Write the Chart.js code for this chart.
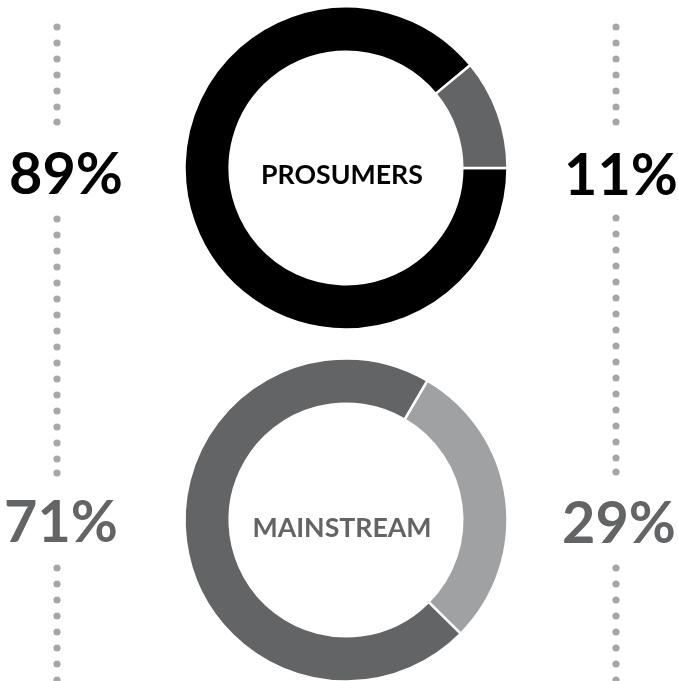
<!DOCTYPE html>
<html>
<head>
<meta charset="utf-8">
<script src="https://cdn.jsdelivr.net/npm/chart.js@4/dist/chart.umd.min.js"></script>
<style>
  html, body { margin: 0; padding: 0; background: #fff; }
  #wrap { position: relative; width: 678px; height: 681px; overflow: hidden; background: #fff; }
  canvas { position: absolute; }
  .lbl { position: absolute; font-family: Lato, "Open Sans", sans-serif; font-weight: 700; line-height: 1.2; white-space: nowrap; }
</style>
</head>
<body>
<div id="wrap">
  <canvas id="dots" width="678" height="681" style="left:0;top:0"></canvas>
  <canvas id="c1" width="340" height="340" style="left:176px;top:-2px"></canvas>
  <canvas id="c2" width="340" height="340" style="left:176px;top:350px"></canvas>
</div>
<script>
// ---- data ----
const categories = ['PROSUMERS', 'MAINSTREAM'];
const sliceLabels = ['Share', 'Remainder'];
const prosumerValues = [89, 11];
const mainstreamValues = [71, 29];

// ---- decorative dotted guides ----
(function () {
  const ctx = document.getElementById('dots').getContext('2d');
  ctx.fillStyle = '#a7a7a7';
  const lines = [
    { x: 57, segs: [[27, 122], [219, 473], [568, 700]] },
    { x: 616, segs: [[27, 122], [218, 472], [568, 700]] }
  ];
  lines.forEach(l => l.segs.forEach(([a, b]) => {
    const ys = [];
    for (let y = a; y < b - 8; y += 16) ys.push(y);
    ys.push(b);
    ys.forEach(y => { ctx.beginPath(); ctx.arc(l.x, y, 3.6, 0, Math.PI * 2); ctx.fill(); });
  }));
})();

function makeDonut(id, values, colors, rotation) {
  return new Chart(document.getElementById(id), {
    type: 'doughnut',
    data: {
      labels: sliceLabels,
      datasets: [{
        data: values,
        backgroundColor: colors,
        borderColor: '#ffffff',
        borderWidth: 2.5,
        hoverOffset: 0
      }]
    },
    options: {
      responsive: false,
      animation: false,
      rotation: rotation,
      radius: 161.5,
      cutout: '72%',
      plugins: { legend: { display: false }, tooltip: { enabled: false } },
      events: []
    }
  });
}

makeDonut('c1', prosumerValues, ['#000000', '#636466'], 90);
makeDonut('c2', mainstreamValues, ['#636466', '#a0a1a3'], 134.7);

// ---- text labels ----
const wrap = document.getElementById('wrap');
function label(text, cx, capCenterY, size, color) {
  const d = document.createElement('div');
  d.className = 'lbl';
  d.textContent = text;
  d.style.fontSize = size + 'px';
  d.style.color = color;
  d.style.top = (capCenterY - (0.987 - 0.358) * size) + 'px';
  wrap.appendChild(d);
  const w = d.getBoundingClientRect().width;
  d.style.left = (cx - w / 2) + 'px';
}
label(categories[0], 342, 174.5, 26.7, '#000000');
label(categories[1], 342, 527.5, 26.7, '#636466');
label(prosumerValues[0] + '%', 66, 173, 57.5, '#000000');
label(prosumerValues[1] + '%', 621, 174, 57.5, '#000000');
label(mainstreamValues[0] + '%', 61, 521.5, 57.5, '#636466');
label(mainstreamValues[1] + '%', 619, 522, 57.5, '#636466');
</script>
</body>
</html>
